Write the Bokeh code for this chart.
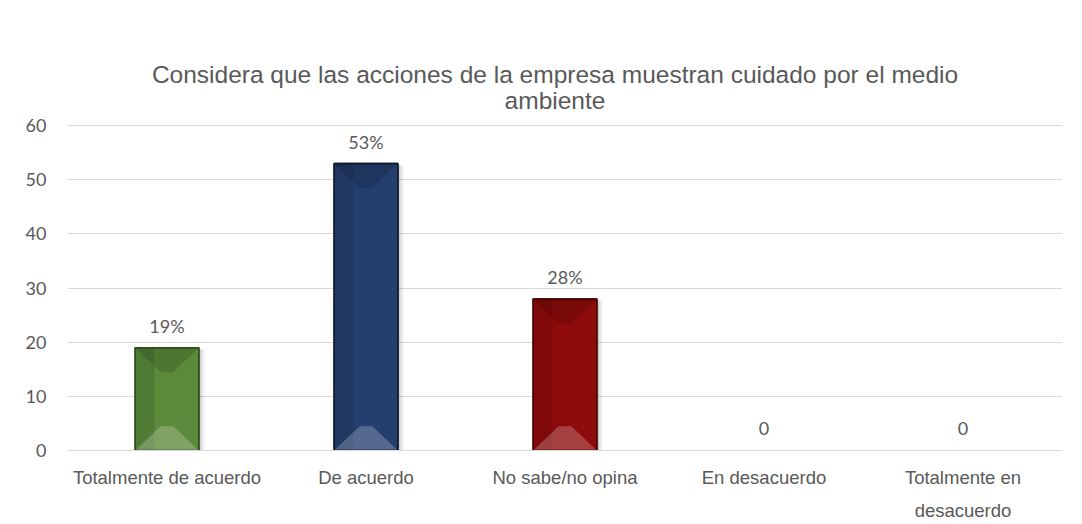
from bokeh.plotting import figure
from bokeh.models import Range1d, FixedTicker, ColumnDataSource, LabelSet, Label
from bokeh.core.properties import value
from bokeh.embed import file_html
from bokeh.resources import INLINE

# ---- data ----
categories = ["Totalmente de acuerdo", "De acuerdo", "No sabe/no opina",
              "En desacuerdo", "Totalmente en\ndesacuerdo"]
values = [19, 53, 28, 0, 0]
value_labels = ["19%", "53%", "28%", "0", "0"]
bar_colors = ["#5a8a3a", "#243f6e", "#8e0b0b"]
edge_colors = ["#2f4f1c", "#0e1a30", "#4a0303"]
title_lines = ["Considera que las acciones de la empresa muestran cuidado por el medio",
               "ambiente"]
y_ticks = [0, 10, 20, 30, 40, 50, 60]

NARROW = "'Liberation Sans Narrow', 'Arial Narrow', 'Liberation Sans', sans-serif"
CAL = "Lato, Carlito, Calibri, sans-serif"
GREY = "#595959"

# frame: left 67, right 1062, bottom 453; value 60 sits 327px above 0
y_top = 60 * 453 / 327

p = figure(width=1082, height=524, output_backend="svg", toolbar_location=None,
           x_range=Range1d(-0.5, 4.5), y_range=Range1d(0, y_top),
           min_border_left=67, min_border_right=20, min_border_top=0,
           min_border_bottom=71)
p.outline_line_color = None
p.background_fill_color = "white"
p.border_fill_color = "white"

# axes
p.xaxis.ticker = FixedTicker(ticks=list(range(len(categories))))
p.xaxis.major_label_overrides = {i: c for i, c in enumerate(categories)}
p.xaxis.major_label_text_font = NARROW
p.xaxis.major_label_text_font_size = "18.5px"
p.xaxis.major_label_text_color = GREY
p.xaxis.major_label_text_line_height = 1.6
p.xaxis.major_label_standoff = 10
p.xaxis.axis_line_color = "#d9d9d9"
p.xaxis.major_tick_line_color = None
p.xaxis.minor_tick_line_color = None
p.xgrid.grid_line_color = None

p.yaxis.ticker = FixedTicker(ticks=y_ticks)
p.yaxis.major_label_text_font = CAL
p.yaxis.major_label_text_font_size = "18px"
p.yaxis.major_label_text_color = GREY
p.yaxis.major_label_standoff = 15
p.yaxis.axis_line_color = None
p.yaxis.major_tick_line_color = None
p.yaxis.minor_tick_line_color = None
p.ygrid.grid_line_color = "#d9d9d9"
p.ygrid.grid_line_width = 1

# bars (only non-zero)
w = 0.32
bx = [i for i, v in enumerate(values) if v > 0]
bv = [values[i] for i in bx]
bc = [bar_colors[k % len(bar_colors)] for k in range(len(bx))]
be = [edge_colors[k % len(edge_colors)] for k in range(len(bx))]

# soft shadow
for dx, a in [(0.03, 0.05), (0.02, 0.07), (0.01, 0.09)]:
    p.quad(left=[x - w / 2 + dx for x in bx], right=[x + w / 2 + dx for x in bx],
           bottom=[0] * len(bx), top=[v - 0.3 for v in bv],
           fill_color="black", fill_alpha=a, line_color=None)

p.vbar(x=bx, width=w, top=bv, bottom=0, fill_color=bc, line_color=be, line_width=1.5)

# left darker shading stripe
p.quad(left=[x - w / 2 for x in bx], right=[x - w / 2 + w * 0.3 for x in bx],
       bottom=[0] * len(bx), top=bv, fill_color="black", fill_alpha=0.10, line_color=None)

# bevel top (darker) and bottom (lighter)
d = 4.5
ins = w * 0.4
top_xs = [[x - w / 2, x + w / 2, x + w / 2 - ins, x - w / 2 + ins] for x in bx]
top_ys = [[v, v, v - d, v - d] for v in bv]
bot_xs = [[x - w / 2, x + w / 2, x + w / 2 - ins, x - w / 2 + ins] for x in bx]
bot_ys = [[0, 0, d, d] for _ in bv]
p.patches(top_xs, top_ys, fill_color="black", fill_alpha=0.14, line_color=None)
p.patches(bot_xs, bot_ys, fill_color="white", fill_alpha=0.22, line_color=None)

# redraw edges on top
p.vbar(x=bx, width=w, top=bv, bottom=0, fill_color=None, line_color=be, line_width=1.5)

# value labels
src = ColumnDataSource(dict(x=list(range(len(values))), y=values, t=value_labels))
p.add_layout(LabelSet(x="x", y="y", text="t", source=src, text_align="center",
                      text_baseline="middle", y_offset=22, text_font=value(CAL),
                      text_font_size="18px", text_color=GREY))

# title (inside the frame area above the 60 gridline), centred on the chart box
title_x = 2 - 10 / 199
p.add_layout(Label(x=title_x, y=69.5, text=title_lines[0], text_align="center",
                   text_baseline="middle", text_font=NARROW,
                   text_font_size="24.5px", text_color=GREY))
p.add_layout(Label(x=title_x, y=64.6, text=title_lines[1], text_align="center",
                   text_baseline="middle", text_font=NARROW,
                   text_font_size="24.5px", text_color=GREY))

open("out.html", "w").write(file_html(p, INLINE))
